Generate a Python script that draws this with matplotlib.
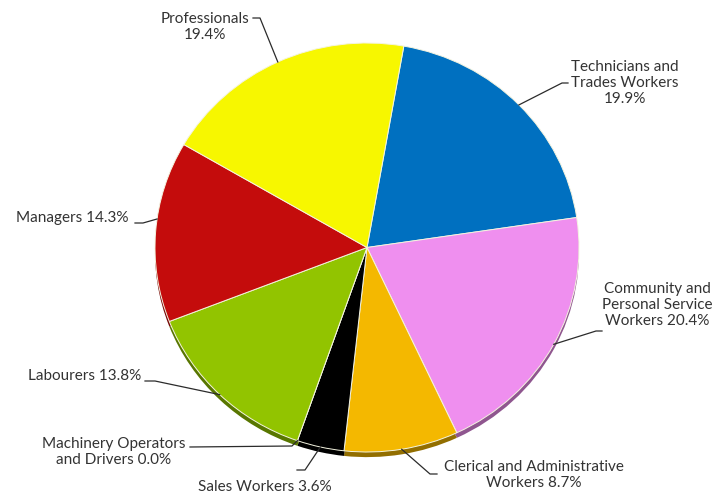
import numpy as np
import matplotlib
matplotlib.use("Agg")
import matplotlib.pyplot as plt
import matplotlib.colors as mcolors

# occupation shares, clockwise from the top
occupations = ["Technicians and\nTrades Workers\n19.9%",
               "Community and\nPersonal Service\nWorkers 20.4%",
               "Clerical and Administrative\nWorkers 8.7%",
               "Sales Workers 3.6%",
               "Machinery Operators\nand Drivers 0.0%",
               "Labourers 13.8%",
               "Managers 14.3%",
               "Professionals\n19.4%"]
shares = [19.9, 20.4, 8.7, 3.6, 0.0, 13.8, 14.3, 19.4]
colours = ["#0070c0", "#ef8fef", "#f4b800", "#000000",
           "#7f7f7f", "#92c400", "#c40c0c", "#f7f700"]

W, H = 720, 497
cx, cy = 367, 247.5      # pie centre in pixels
rx, ry = 212, 204.5      # pixel size of one data unit

def px(x, y):
    return (x - cx) / rx, (cy - y) / ry

fig = plt.figure(figsize=(W / 100, H / 100), dpi=100)
ax = fig.add_axes([0, 0, 1, 1])

start = 80
darker = [tuple(v * 0.6 for v in mcolors.to_rgb(c)) for c in colours]

# thin darker rim to give the pie a little depth
ax.pie(shares, colors=darker, startangle=start, counterclock=False,
       center=(0, -0.025), radius=1.0, wedgeprops=dict(linewidth=0))
wedges, _ = ax.pie(shares, colors=colours, startangle=start, counterclock=False,
                   radius=1.0, wedgeprops=dict(linewidth=0.7, edgecolor="#f4f4e0"))

# text centre (px), elbow (px), end of the short tick (px), anchor angle offset
layout = [
    ((625, 83), (562, 83), (568, 83), 0),
    ((657, 305), (596, 331), (602, 331), 0),
    ((534, 475), (430, 474), (437, 474), 0),
    ((265, 487), (305, 470), (297, 470), 0),
    ((114, 452), (292, 446), (190, 447), 0),
    ((85, 376), (155, 381), (145, 381), 0),
    ((72, 218), (143, 223), (135, 223), -3.5),
    ((205, 27), (260, 18), (253, 18), 0),
]

for w, name, (tpos, elbow, tick, off) in zip(wedges, occupations, layout):
    mid = np.deg2rad((w.theta1 + w.theta2) / 2 + off)
    x0, y0 = np.cos(mid), np.sin(mid)
    ex, ey = px(*elbow)
    kx, ky = px(*tick)
    tx, ty = px(*tpos)
    ax.plot([x0, ex, kx], [y0, ey, ky], color="#2b2b2b", lw=0.9, zorder=5)
    ax.text(tx, ty, name, ha="center", va="center", fontsize=11, color="#333333",
            family=["Lato", "DejaVu Sans"], linespacing=1.2, zorder=6)

ax.set_xlim(-cx / rx, (W - cx) / rx)
ax.set_ylim(-(H - cy) / ry, cy / ry)
ax.set_aspect("auto")
ax.axis("off")

fig.savefig("out.png", dpi=100)
